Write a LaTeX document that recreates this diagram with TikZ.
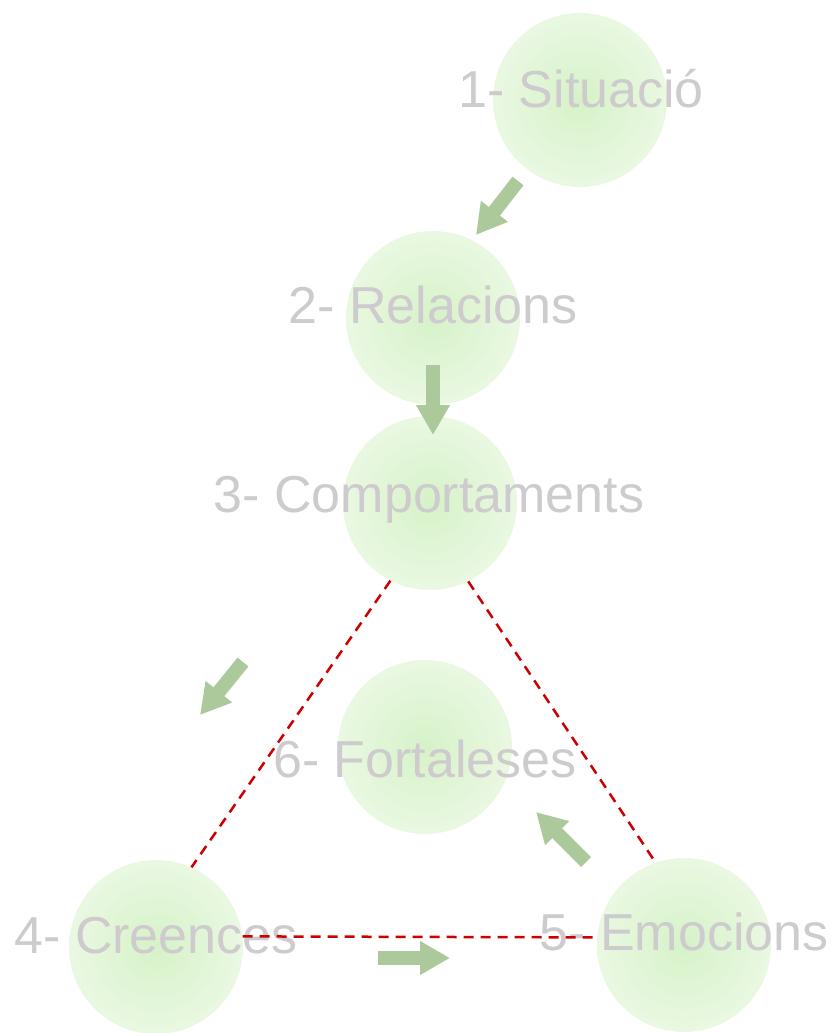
\documentclass[tikz,border=0pt]{standalone}
\usepackage{fontspec}
\setmainfont{Liberation Sans}
\usetikzlibrary{arrows.meta}
\definecolor{bubblein}{RGB}{214,242,200}
\definecolor{bubbleout}{RGB}{234,248,226}
\definecolor{labelgrey}{RGB}{205,203,205}
\definecolor{linkred}{RGB}{204,0,0}
\definecolor{pushgreen}{RGB}{172,201,156}
\begin{document}
\begin{tikzpicture}[x=1pt,y=-1pt,
    bubble/.style={circle,minimum size=174pt,inner sep=0pt,
      shading=radial,inner color=bubblein,outer color=bubbleout},
    tag/.style={anchor=base,text=labelgrey,font=\fontsize{52}{60}\selectfont},
    link/.style={draw=linkred,line width=2.5pt,dash pattern=on 10pt off 7pt},
    push/.style={draw=pushgreen,line width=14pt,
      -{Triangle[length=30pt,width=32pt,fill=pushgreen]}}]
  \useasboundingbox (0,0) rectangle (835,1033);
  \draw
    (580,100) node[bubble] (c1){}
    (433,318) node[bubble] (c2){}
    (430,503) node[bubble] (c3){}
    (156,947) node[bubble] (c4){}
    (684,945) node[bubble] (c5){}
    (425,747) node[bubble] (c6){};
  \draw
    (581,107) node[tag] (t1){1- Situació}
    (433,323) node[tag] (t2){2- Relacions}
    (429,512) node[tag] (t3){3- Comportaments}
    (156,953) node[tag] (t4){4- Creences}
    (684,950) node[tag] (t5){5- Emocions}
    (425,777) node[tag] (t6){6- Fortaleses};
  \begin{scope}[link]
    \draw (c3.243) to (c4.66);
    \draw (c3.296) to (c5.109);
    \draw (c4.7) to (c5.175);
  \end{scope}
  \coordinate (p1) at (518,181);
  \coordinate (q1) at (476,235);
  \coordinate (p2) at (433,365);
  \coordinate (q2) at (433,435);
  \coordinate (p3) at (243,662);
  \coordinate (q3) at (200,715);
  \coordinate (p4) at (378,958);
  \coordinate (q4) at (450,958);
  \coordinate (p5) at (586,862);
  \coordinate (q5) at (536,812);
  \begin{scope}[push]
    \draw (p1) to (q1);
    \draw (p2) to (q2);
    \draw (p3) to (q3);
    \draw (p4) to (q4);
    \draw (p5) to (q5);
  \end{scope}
\end{tikzpicture}
\end{document}
